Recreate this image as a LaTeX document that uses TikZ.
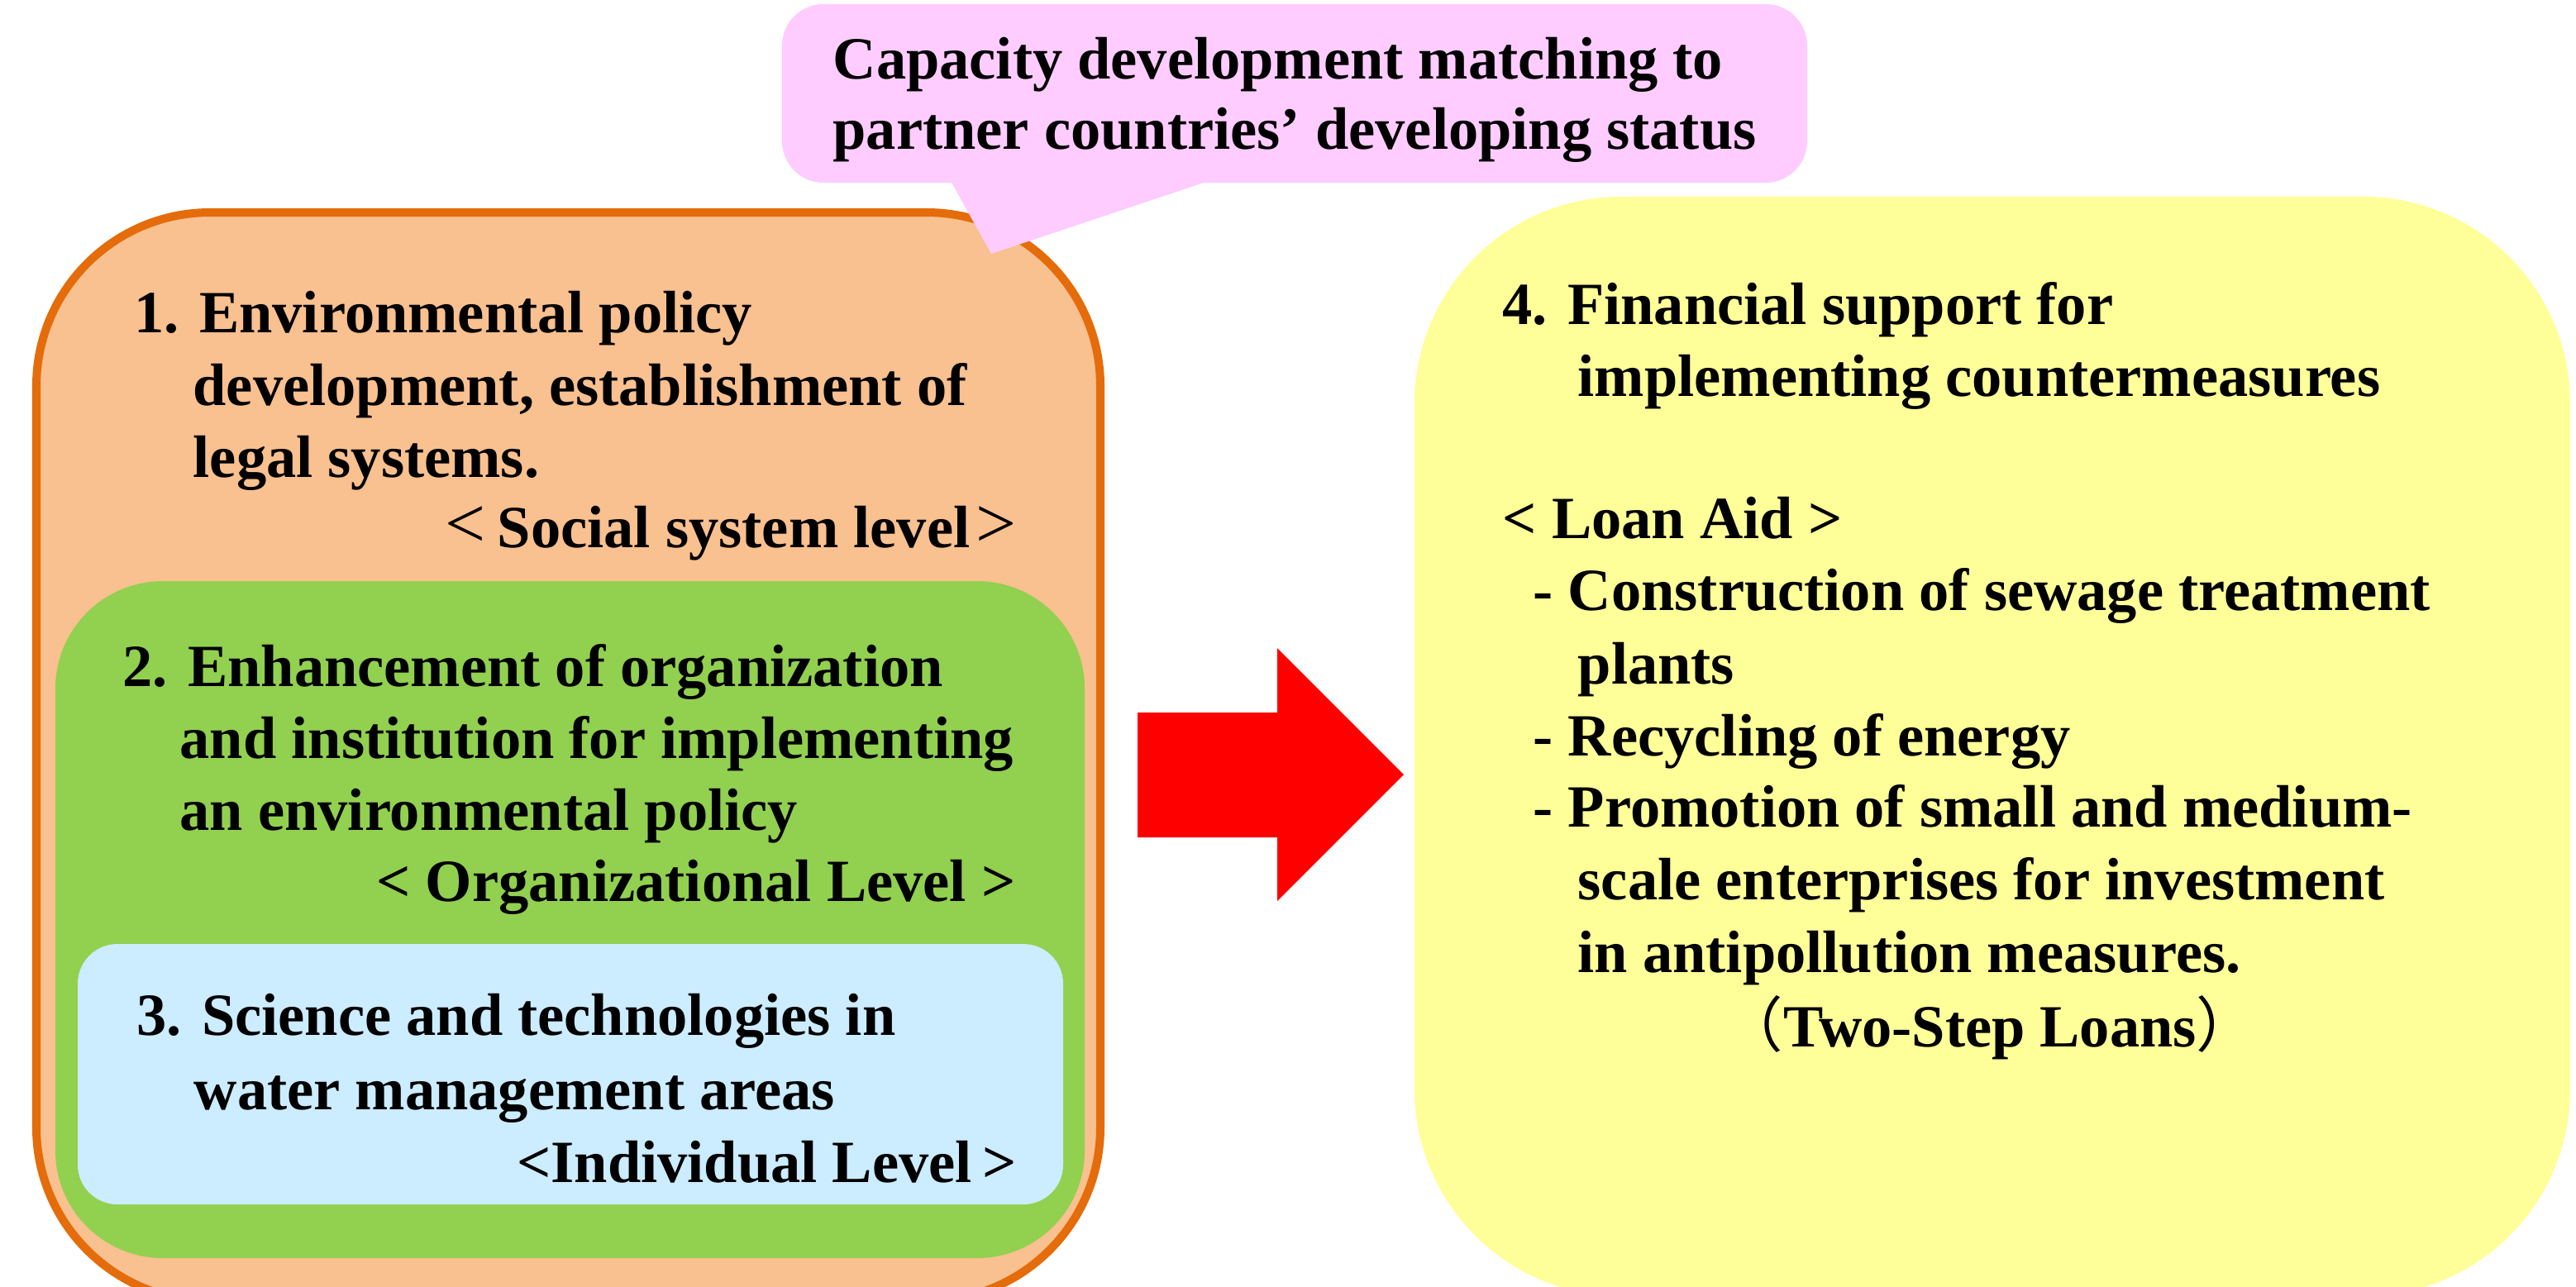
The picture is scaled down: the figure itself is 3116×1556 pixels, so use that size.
\documentclass[tikz,border=0pt]{standalone}
\usepackage{fontspec}
\setmainfont{Liberation Serif}
\newfontfamily\cjk{Noto Sans CJK JP}
\definecolor{peach}{HTML}{F9C090}
\definecolor{orangeline}{HTML}{E46C0A}
\definecolor{leaf}{HTML}{92D050}
\definecolor{sky}{HTML}{CCECFF}
\definecolor{lemon}{HTML}{FFFF99}
\definecolor{pinkbox}{HTML}{FFCCFF}
\newcommand{\thinlt}{{\mdseries\scalebox{1.2}{<}}}
\newcommand{\thingt}{{\mdseries\scalebox{1.2}{>}}}
\begin{document}
\begin{tikzpicture}[x=0.01cm,y=-0.01cm,
  txt/.style={inner sep=0pt, font=\fontsize{20.6}{24}\selectfont\bfseries},
  lft/.style={txt, anchor=base west},
  rgt/.style={txt, anchor=base east},
  mid/.style={txt, anchor=base}]
\useasboundingbox (0,0) rectangle (3116,1556);
\clip (0,0) rectangle (3116,1556);
% left stacked boxes
\draw[fill=peach, draw=orangeline, line width=2.85pt, rounded corners=2.1cm] (44,257) rectangle (1331,1574);
\fill[leaf, rounded corners=1.3cm] (67,703) rectangle (1312,1522);
\fill[sky, rounded corners=0.48cm] (94,1142) rectangle (1286,1457);
% right box
\fill[lemon, rounded corners=2.5cm] (1711,238) rectangle (3109,1568);
% callout
\fill[pinkbox, rounded corners=0.5cm] (946,5) rectangle (2186,221);
\fill[pinkbox] (1150,219) -- (1199,307) -- (1462,219) -- cycle;
% big arrow
\fill[red] (1376,862) -- (1545,862) -- (1545,784) -- (1698,937) -- (1545,1090) -- (1545,1013) -- (1376,1013) -- cycle;
% callout text
\node[lft] (c1) at (1007,95) {Capacity development matching to};
\node[lft] (c2) at (1007,180) {partner countries’ developing status};
% box 1
\node[lft] (a1) at (162,402) {1. Environmental policy};
\node[lft] (a2) at (233,490) {development, establishment of};
\node[lft] (a3) at (233,577) {legal systems.};
\node[rgt] (a4) at (1230,662) {\thinlt\hspace{4pt}Social system level\hspace{2pt}\thingt};
% box 2
\node[lft] (b1) at (148,830) {2. Enhancement of organization};
\node[lft] (b2) at (217,917) {and institution for implementing};
\node[lft] (b3) at (217,1004) {an environmental policy};
\node[rgt] (b4) at (1229,1090) {< Organizational Level >};
% box 3
\node[lft] (d1) at (165,1252) {3. Science and technologies in};
\node[lft] (d2) at (234,1342) {water management areas};
\node[rgt] (d3) at (1230,1430) {<Individual Level\,>};
% box 4
\node[lft] (e1) at (1817,392) {4. Financial support for};
\node[lft] (e2) at (1908,479) {implementing countermeasures};
\node[lft] (e3) at (1817,651) {< Loan Aid >};
\node[lft] (e4) at (1854,738) {- Construction of sewage treatment};
\node[lft] (e5) at (1908,827) {plants};
\node[lft] (e6) at (1854,914) {- Recycling of energy};
\node[lft] (e7) at (1854,1000) {- Promotion of small and medium-};
\node[lft] (e8) at (1908,1088) {scale enterprises for investment};
\node[lft] (e9) at (1908,1176) {in antipollution measures.};
\node[mid] (e10) at (2407,1266) {{\cjk\mdseries （}Two-Step Loans{\cjk\mdseries ）}};
\end{tikzpicture}
\end{document}
